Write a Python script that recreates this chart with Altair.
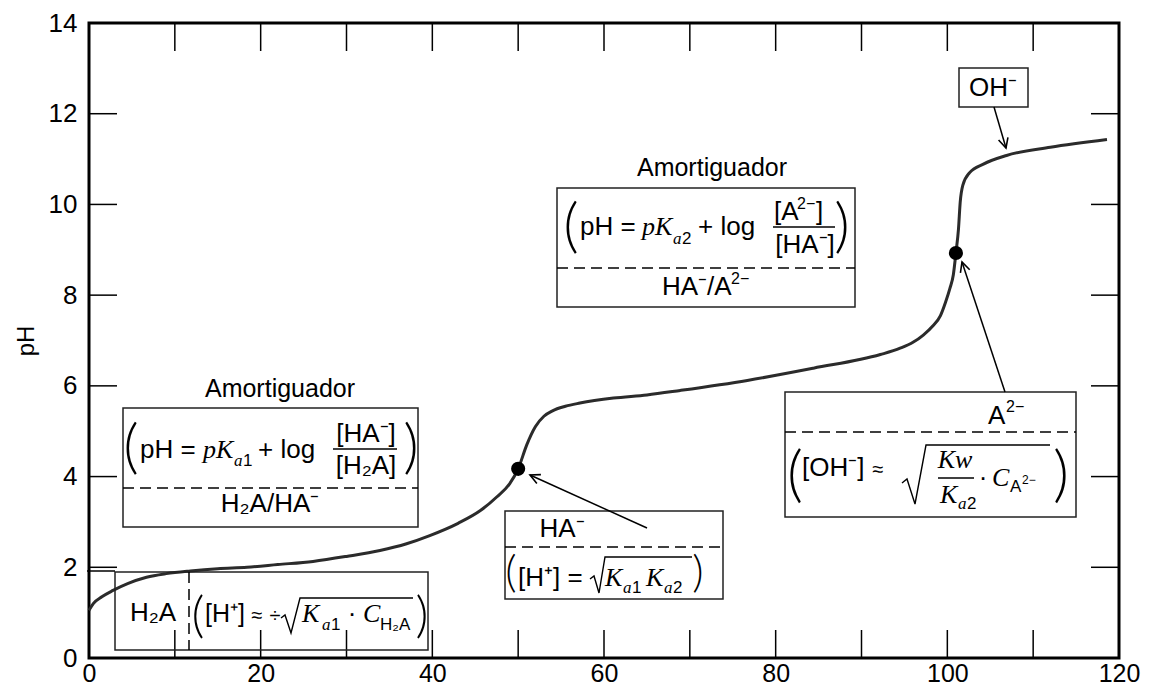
import math
import altair as alt
import pandas as pd

# ---------------- data ----------------
titrant_ml = [0, 0.5, 1.5, 2.8, 4.5, 6.7, 9, 11.8, 15, 18.4, 22, 26.1, 30, 33.9, 37,
              39.7, 43, 45.6, 47.5, 49, 50, 51, 52, 53, 54, 55.5, 57.2, 61.1, 65, 68.9,
              76.7, 84.4, 92.2, 94.5, 96, 97.2, 98.3, 99.2, 99.8, 100.3, 100.7, 101, 101.3,
              101.5, 101.8, 102.6, 104.2, 106.9, 112, 118.6]
ph_values = [1.05, 1.2, 1.35, 1.49, 1.64, 1.78, 1.86, 1.92, 1.97, 2.0, 2.06, 2.13, 2.24,
             2.37, 2.52, 2.70, 2.97, 3.25, 3.55, 3.84, 4.17, 4.7, 5.1, 5.33, 5.45, 5.55,
             5.62, 5.73, 5.8, 5.9, 6.12, 6.39, 6.69, 6.83, 6.96, 7.12, 7.32, 7.55, 7.85,
             8.15, 8.45, 8.93, 9.46, 10.05, 10.42, 10.7, 10.89, 11.08, 11.26, 11.43]
eq_x = [50, 101]
eq_ph = [4.17, 8.93]
x_labels = [0, 20, 40, 60, 80, 100, 120]
y_labels = [0, 2, 4, 6, 8, 10, 12, 14]
x_minor = [10, 20, 30, 40, 50, 60, 70, 80, 90, 100, 110]
y_minor = [2, 4, 6, 8, 10, 12]

# ---------------- geometry helpers ----------------
W, H = 1030, 635
XMAX, YMAX = 120, 14
LEFT, TOP = 89, 23
BOTTOM = TOP + H
INK = "black"
FONT = "Liberation Sans"


def dx(px):
    return (px - LEFT) / W * XMAX


def dy(py):
    return (BOTTOM - py) / H * YMAX


AX = alt.Axis(values=x_labels, title=None, labelFontSize=25, labelFont=FONT,
              labelColor=INK, tickSize=0, domain=False, grid=False, labelPadding=3,
              labelFlush=False, labelOverlap=False)
AY = alt.Axis(values=y_labels, title="pH", titleFontSize=24, titleFont=FONT,
              titleFontWeight="normal", titleColor=INK, titlePadding=10,
              labelFontSize=26, labelFont=FONT, labelColor=INK,
              tickSize=0, domain=False, grid=False, labelPadding=12,
              labelFlush=False, labelOverlap=False)
SX = alt.Scale(domain=[0, XMAX], nice=False, zero=False)
SY = alt.Scale(domain=[0, YMAX], nice=False, zero=False)


def X(f):
    return alt.X(f, type="quantitative", scale=SX, axis=AX)


def Y(f):
    return alt.Y(f, type="quantitative", scale=SY, axis=AY)


# ---------------- curve ----------------
curve_df = pd.DataFrame({"x": titrant_ml, "y": ph_values})
curve = alt.Chart(curve_df).mark_line(interpolate="monotone", color="#2b2b2b", strokeWidth=3).encode(
    x=X("x"), y=Y("y"))

dots = alt.Chart(pd.DataFrame({"x": eq_x, "y": eq_ph})).mark_circle(size=200, color="black", opacity=1).encode(
    x=X("x"), y=Y("y"))

# ---------------- inward ticks on all four sides ----------------
tx = 28 / W * XMAX
ty = 28 / H * YMAX
tick_rows = []
for v in x_minor:
    tick_rows.append({"x": v, "x2": v, "y": 0, "y2": ty})
    tick_rows.append({"x": v, "x2": v, "y": YMAX, "y2": YMAX - ty})
for v in y_minor:
    tick_rows.append({"x": 0, "x2": tx, "y": v, "y2": v})
    tick_rows.append({"x": XMAX - tx, "x2": XMAX, "y": v, "y2": v})
ticks = alt.Chart(pd.DataFrame(tick_rows)).mark_rule(color=INK, strokeWidth=1.5).encode(
    x=X("x"), x2="x2", y=Y("y"), y2="y2")

# ---------------- annotation boxes ----------------
boxes_px = [(115, 572, 428, 650), (123, 408, 418, 527), (557, 188, 855, 307),
            (505, 511, 723, 599), (785, 392, 1076, 517), (959, 68, 1028, 107)]
box_df = pd.DataFrame([{"x": dx(a), "x2": dx(c), "y": dy(b), "y2": dy(d)} for a, b, c, d in boxes_px])
boxes = alt.Chart(box_df).mark_rect(fillOpacity=0, stroke="#222", strokeWidth=1.5).encode(
    x=X("x"), x2="x2", y=Y("y"), y2="y2")

# solid helper lines (fraction bars, small edge line)
solid_px = [(333, 397, 449, 449), (773, 835, 227, 227), (938, 974, 478, 478), (87, 115, 571, 571)]
solid_df = pd.DataFrame([{"x": dx(a), "x2": dx(b), "y": dy(c), "y2": dy(d)} for a, b, c, d in solid_px])
solid = alt.Chart(solid_df).mark_rule(color=INK, strokeWidth=1.5).encode(
    x=X("x"), x2="x2", y=Y("y"), y2="y2")

dashed_px = [(123, 418, 488, 488), (557, 855, 268, 268), (505, 723, 547, 547),
             (785, 1076, 432, 432), (189, 189, 572, 650)]
dashed_df = pd.DataFrame([{"x": dx(a), "x2": dx(b), "y": dy(c), "y2": dy(d)} for a, b, c, d in dashed_px])
dashed = alt.Chart(dashed_df).mark_rule(color=INK, strokeWidth=1.5, strokeDash=[11, 6]).encode(
    x=X("x"), x2="x2", y=Y("y"), y2="y2")

# radical signs
radicals_px = {
    "r1": [(281, 618), (285, 615), (291, 633), (300, 598), (413, 598)],
    "r2": [(590, 579), (594, 576), (599, 593), (605, 557), (692, 557)],
    "r3": [(902, 483), (907, 479), (915, 504), (926, 445), (1050, 445)],
}
rad_rows = []
for k, pts in radicals_px.items():
    for i, (a, b) in enumerate(pts):
        rad_rows.append({"id": k, "i": i, "x": dx(a), "y": dy(b)})
radicals = alt.Chart(pd.DataFrame(rad_rows)).mark_line(color=INK, strokeWidth=1.4).encode(
    x=X("x"), y=Y("y"), detail="id:N", order="i:Q")

# arrows
arrows_px = [(994, 107, 1006, 148), (1005, 392, 962, 262), (647, 528, 530, 475)]
arr_rows = []
for a, b, c, d in arrows_px:
    ang = math.degrees(math.atan2(c - a, -(d - b))) % 360
    arr_rows.append({"x": dx(a), "y": dy(b), "x2": dx(c), "y2": dy(d), "ang": ang})
arr_df = pd.DataFrame(arr_rows)
arrow_lines = alt.Chart(arr_df).mark_rule(color=INK, strokeWidth=1.5).encode(
    x=X("x"), x2="x2", y=Y("y"), y2="y2")
arrow_heads = alt.Chart(arr_df).mark_point(
    shape="M -0.5 1 L 0 0 L 0.5 1", filled=False, strokeWidth=1.6, color=INK, size=380, opacity=1
).encode(x=X("x2"), y=Y("y2"), angle=alt.Angle("ang:Q", scale=None))

# ---------------- annotation text pieces ----------------
S, I, P = "sans", "serif_i", "paren"
pieces = [
    # box 1
    ("H₂A", 153, 613, 26, S, "center"),
    ("(", 198, 617, 50, P, "center"),
    ("[H⁺]", 205, 614, 25, S, "left"),
    ("≈", 257, 616, 20, S, "center"),
    ("÷", 275, 616, 20, S, "center"),
    ("K", 302, 614, 26, I, "left"),
    ("a", 322, 625, 17, I, "left"),
    ("1", 331, 625, 17, S, "left"),
    ("·", 352, 614, 26, S, "center"),
    ("C", 363, 614, 26, I, "left"),
    ("H₂A", 380, 625, 17, S, "left"),
    (")", 422, 617, 50, P, "center"),
    # box 2
    ("Amortiguador", 280, 389, 25, S, "center"),
    ("(", 131, 449, 60, P, "center"),
    ("pH =", 140, 450, 26, S, "left"),
    ("pK", 203, 450, 26, I, "left"),
    ("a", 234, 461, 17, I, "left"),
    ("1", 243, 461, 17, S, "left"),
    ("+ log", 258, 450, 26, S, "left"),
    ("[HA⁻]", 366, 434, 26, S, "center"),
    ("[H₂A]", 366, 466, 26, S, "center"),
    (")", 411, 449, 60, P, "center"),
    ("H₂A/HA⁻", 270, 504, 26, S, "center"),
    # box 3
    ("Amortiguador", 712, 168, 25, S, "center"),
    ("(", 571, 228, 60, P, "center"),
    ("pH =", 580, 227, 26, S, "left"),
    ("pK", 642, 227, 26, I, "left"),
    ("a", 673, 239, 17, I, "left"),
    ("2", 682, 239, 17, S, "left"),
    ("+ log", 698, 227, 26, S, "left"),
    ("[A", 774, 212, 26, S, "left"),
    ("2−", 797, 204, 16, S, "left"),
    ("]", 816, 212, 26, S, "left"),
    ("[HA⁻]", 805, 245, 26, S, "center"),
    (")", 842, 228, 60, P, "center"),
    ("HA⁻/A", 662, 287, 26, S, "left"),
    ("2−", 731, 279, 16, S, "left"),
    # box 4
    ("HA⁻", 562, 529, 26, S, "center"),
    ("(", 511, 574, 44, P, "center"),
    ("[H⁺] =", 518, 578, 26, S, "left"),
    ("K", 605, 578, 26, I, "left"),
    ("a", 623, 588, 17, I, "left"),
    ("1", 632, 588, 17, S, "left"),
    ("K", 646, 578, 26, I, "left"),
    ("a", 664, 588, 17, I, "left"),
    ("2", 673, 588, 17, S, "left"),
    (")", 698, 574, 44, P, "center"),
    # box 5
    ("A", 988, 416, 26, S, "left"),
    ("2−", 1006, 407, 16, S, "left"),
    ("(", 795, 476, 62, P, "center"),
    ("[OH⁻]", 802, 468, 26, S, "left"),
    ("≈", 878, 470, 20, S, "center"),
    ("Kw", 955, 460, 26, I, "center"),
    ("K", 940, 495, 26, I, "left"),
    ("a", 958, 504, 17, I, "left"),
    ("2", 967, 504, 17, S, "left"),
    ("·", 983, 478, 26, S, "center"),
    ("C", 992, 478, 26, I, "left"),
    ("A", 1010, 487, 17, S, "left"),
    ("2−", 1022, 480, 12, S, "left"),
    (")", 1061, 476, 62, P, "center"),
    # box 6
    ("OH⁻", 993, 88, 26, S, "center"),
]
txt_df = pd.DataFrame([{"text": t, "x": dx(a), "y": dy(b), "size": s, "kind": k, "align": al}
                       for t, a, b, s, k, al in pieces])
fonts = {
    S: dict(font=FONT),
    I: dict(font="Liberation Serif", fontStyle="italic"),
    P: dict(font="Lato", fontWeight=300),
}
text_layers = []
for (kind, align), sub in txt_df.groupby(["kind", "align"]):
    text_layers.append(
        alt.Chart(sub).mark_text(align=align, baseline="middle", color=INK, **fonts[kind]).encode(
            x=X("x"), y=Y("y"), text="text:N", size=alt.Size("size:Q", scale=None))
    )

chart = alt.layer(curve, ticks, boxes, solid, dashed, radicals, arrow_lines, arrow_heads,
                  dots, *text_layers).properties(
    width=W, height=H,
    padding={"left": LEFT - 8, "top": TOP - 8, "right": 26, "bottom": 32},
    autosize=alt.AutoSizeParams(type="none"),
    background="white",
).configure_view(stroke="black", strokeWidth=3)

chart.save("out.html", embed_options={"renderer": "svg", "actions": False})
